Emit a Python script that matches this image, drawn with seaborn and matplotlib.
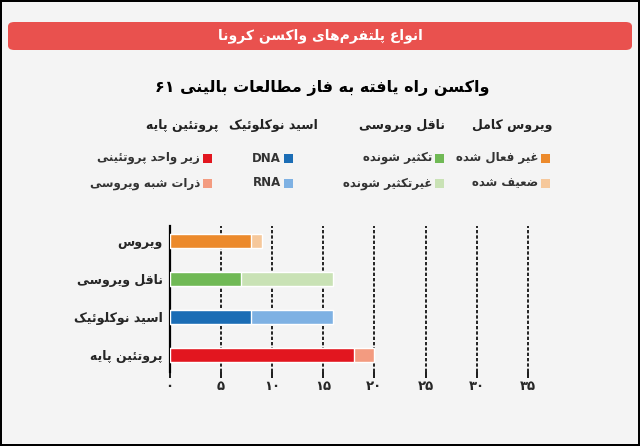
import re
import matplotlib
matplotlib.use("Agg")
import matplotlib.pyplot as plt
from matplotlib.patches import FancyBboxPatch, Rectangle
import seaborn as sns

# data (logical Persian text)
title = "انواع پلتفرم‌های واکسن کرونا"
subtitle = "واکسن راه یافته به فاز مطالعات بالینی"
total_vaccines = "۶۱"
platforms = ["ویروس", "ناقل ویروسی", "اسید نوکلوئیک", "پروتئین پایه"]
group_names = ["ویروس کامل", "ناقل ویروسی", "اسید نوکلوئیک", "پروتئین پایه"]
first_names = ["غیر فعال شده", "تکثیر شونده", "DNA", "زیر واحد پروتئینی"]
second_names = ["ضعیف شده", "غیرتکثیر شونده", "RNA", "ذرات شبه ویروسی"]
first_counts = [8, 7, 8, 18]
second_counts = [1, 9, 8, 2]
xticks = [0, 5, 10, 15, 20, 25, 30, 35]
dark_colors = ["#ec8a2c", "#70b955", "#1b6db5", "#e2161f"]
light_colors = ["#f6c89b", "#c9e2b5", "#7eb1e3", "#f39b80"]

# minimal arabic shaping: (isolated, final, initial, medial)
FORMS = {
    "ا": (0xFE8D, 0xFE8E, None, None), "آ": (0xFE81, 0xFE82, None, None),
    "ب": (0xFE8F, 0xFE90, 0xFE91, 0xFE92), "پ": (0xFB56, 0xFB57, 0xFB58, 0xFB59),
    "ت": (0xFE95, 0xFE96, 0xFE97, 0xFE98), "ث": (0xFE99, 0xFE9A, 0xFE9B, 0xFE9C),
    "ج": (0xFE9D, 0xFE9E, 0xFE9F, 0xFEA0), "چ": (0xFB7A, 0xFB7B, 0xFB7C, 0xFB7D),
    "ح": (0xFEA1, 0xFEA2, 0xFEA3, 0xFEA4), "خ": (0xFEA5, 0xFEA6, 0xFEA7, 0xFEA8),
    "د": (0xFEA9, 0xFEAA, None, None), "ذ": (0xFEAB, 0xFEAC, None, None),
    "ر": (0xFEAD, 0xFEAE, None, None), "ز": (0xFEAF, 0xFEB0, None, None),
    "ژ": (0xFB8A, 0xFB8B, None, None), "س": (0xFEB1, 0xFEB2, 0xFEB3, 0xFEB4),
    "ش": (0xFEB5, 0xFEB6, 0xFEB7, 0xFEB8), "ص": (0xFEB9, 0xFEBA, 0xFEBB, 0xFEBC),
    "ض": (0xFEBD, 0xFEBE, 0xFEBF, 0xFEC0), "ط": (0xFEC1, 0xFEC2, 0xFEC3, 0xFEC4),
    "ظ": (0xFEC5, 0xFEC6, 0xFEC7, 0xFEC8), "ع": (0xFEC9, 0xFECA, 0xFECB, 0xFECC),
    "غ": (0xFECD, 0xFECE, 0xFECF, 0xFED0), "ف": (0xFED1, 0xFED2, 0xFED3, 0xFED4),
    "ق": (0xFED5, 0xFED6, 0xFED7, 0xFED8), "ک": (0xFB8E, 0xFB8F, 0xFB90, 0xFB91),
    "گ": (0xFB92, 0xFB93, 0xFB94, 0xFB95), "ل": (0xFEDD, 0xFEDE, 0xFEDF, 0xFEE0),
    "م": (0xFEE1, 0xFEE2, 0xFEE3, 0xFEE4), "ن": (0xFEE5, 0xFEE6, 0xFEE7, 0xFEE8),
    "ه": (0xFEE9, 0xFEEA, 0xFEEB, 0xFEEC), "و": (0xFEED, 0xFEEE, None, None),
    "ی": (0xFBFC, 0xFBFD, 0xFBFE, 0xFBFF), "ئ": (0xFE89, 0xFE8A, 0xFE8B, 0xFE8C),
}


def fa(text):
    out = []
    for i, c in enumerate(text):
        if c not in FORMS:
            out.append(c)
            continue
        prev = text[i - 1] if i > 0 else ""
        nxt = text[i + 1] if i + 1 < len(text) else ""
        iso, fin, ini, med = FORMS[c]
        jp = prev in FORMS and FORMS[prev][2] is not None
        jn = ini is not None and nxt in FORMS
        code = med if (jp and jn) else fin if jp else ini if jn else iso
        out.append(chr(code))
    s = "".join(out).replace("\u200c", "")
    # visual order: reverse, keep digit / latin runs left to right
    return re.sub(r"[0-9۰-۹A-Za-z]+", lambda m: m.group()[::-1], s[::-1])


def fa_num(n):
    return str(n).translate(str.maketrans("0123456789", "۰۱۲۳۴۵۶۷۸۹"))


sns.set_theme(style="white")
plt.rcParams["font.family"] = ["DejaVu Sans"]
plt.rcParams["font.weight"] = "bold"

W, H = 640, 446
fig = plt.figure(figsize=(6.4, 4.46), dpi=100)
fig.patch.set_facecolor("#f4f4f4")
fig.patch.set_edgecolor("black")
fig.patch.set_linewidth(1.5)


def px(x, y):
    return x / W, 1 - y / H


# red title banner
x0, y0 = px(8, 50)
fig.patches.append(FancyBboxPatch((x0, y0), 624 / W, 28 / H, boxstyle="round,pad=0,rounding_size=0.01",
                                  transform=fig.transFigure, facecolor="#e9514e", edgecolor="none"))
fig.text(*px(320, 36), fa(title), color="white", fontsize=10, fontweight="bold", ha="center", va="center")
fig.text(*px(322, 88), total_vaccines + " " + fa(subtitle), color="black", fontsize=11.5,
         fontweight="bold", ha="center", va="center")

# legend, right-to-left columns
col_right = [552, 445, 318, 218]
sq_right = [550, 444, 293, 212]
for i in range(4):
    fig.text(*px(col_right[i], 125), fa(group_names[i]), fontsize=9, fontweight="bold",
             ha="right", va="center", color="#222222")
    for row_y, name, color in [(158, first_names[i], dark_colors[i]), (183, second_names[i], light_colors[i])]:
        sx, sy = px(sq_right[i] - 9, row_y + 4.5)
        fig.patches.append(Rectangle((sx, sy), 9 / W, 9 / H, transform=fig.transFigure,
                                     facecolor=color, edgecolor="none"))
        fig.text(*px(sq_right[i] - 12, row_y), fa(name), fontsize=8.5, fontweight="bold",
                 ha="right", va="center", color="#333333")

# bar chart
ax = fig.add_axes([169.5 / W, 1 - 372 / H, 374 / W, 146 / H])
ax.set_facecolor("none")
labels = [fa(p) for p in platforms]
totals = [a + b for a, b in zip(first_counts, second_counts)]
sns.barplot(x=totals, y=labels, hue=labels, palette=light_colors, orient="h", width=0.38,
            saturation=1, legend=False, ax=ax, zorder=3)
sns.barplot(x=first_counts, y=labels, hue=labels, palette=dark_colors, orient="h", width=0.38,
            saturation=1, legend=False, ax=ax, zorder=4)
ax.set_xlim(0, 36.5)
ax.set_ylim(3.45, -0.4)
ax.set_xticks(xticks)
ax.set_xticklabels([fa_num(t) for t in xticks], fontsize=9.5, fontweight="bold")
ax.tick_params(axis="x", length=4, color="black", pad=2, bottom=True)
ax.tick_params(axis="y", length=0, pad=5, labelsize=9)
for t in ax.get_yticklabels():
    t.set_fontweight("bold")
for t in xticks[1:]:
    ax.axvline(t, color="black", linestyle=(0, (2, 1.2)), linewidth=1.2, zorder=1)
for s in ["top", "right", "bottom"]:
    ax.spines[s].set_visible(False)
ax.spines["left"].set_color("black")
ax.spines["left"].set_linewidth(1.6)
ax.set_xlabel("")
ax.set_ylabel("")

fig.savefig("out.png", dpi=100, facecolor=fig.get_facecolor(), edgecolor=fig.get_edgecolor())
